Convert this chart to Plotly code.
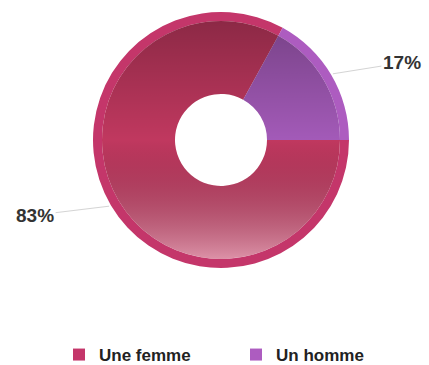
import base64
import math
import plotly.graph_objects as go

# ---- data ----
labels = ["Une femme", "Un homme"]
values = [83, 17]
pct_text = ["83%", "17%"]

# ---- styles ----
W, H = 429, 365
CX, CY = 221, 140          # pie centre (px)
R_OUT, R_IN, R_HOLE = 128, 119, 46
ring_colors = ["#c4366a", "#ad5cc0"]
inner_colors = ["#c0385f", "#a35ab8"]
ROTATION = 90              # first slice begins at 3 o'clock (clockwise degrees)
FONT = "Liberation Sans, Arial, sans-serif"

total = sum(values)


def dom(r):
    return dict(x=[(CX - r) / W, (CX + r) / W], y=[1 - (CY + r) / H, 1 - (CY - r) / H])


fig = go.Figure()
# outer ring (legend source)
fig.add_trace(go.Pie(labels=labels, values=values, sort=False, direction="counterclockwise",
                     rotation=ROTATION, hole=R_IN / R_OUT, domain=dom(R_OUT),
                     marker=dict(colors=ring_colors, line=dict(width=0)),
                     textinfo="none", hoverinfo="label+percent", showlegend=True))
# inner donut
fig.add_trace(go.Pie(labels=labels, values=values, sort=False, direction="counterclockwise",
                     rotation=ROTATION, hole=R_HOLE / R_IN, domain=dom(R_IN),
                     marker=dict(colors=inner_colors, line=dict(width=0)),
                     textinfo="none", hoverinfo="label+percent", showlegend=False))

# vertical shading overlay for the inner donut
d = 2 * R_IN
svg = (f"<svg xmlns='http://www.w3.org/2000/svg' width='{d}' height='{d}' viewBox='0 0 {d} {d}'>"
       "<defs><linearGradient id='g' x1='0' y1='0' x2='0' y2='1'>"
       "<stop offset='0' stop-color='#000' stop-opacity='0.27'/>"
       "<stop offset='0.5' stop-color='#000' stop-opacity='0'/>"
       "<stop offset='1' stop-color='#fff' stop-opacity='0.45'/>"
       "</linearGradient></defs>"
       f"<path fill='url(#g)' fill-rule='evenodd' d='"
       f"M0,{R_IN} A{R_IN},{R_IN} 0 1,0 {d},{R_IN} A{R_IN},{R_IN} 0 1,0 0,{R_IN} Z "
       f"M{R_IN - R_HOLE},{R_IN} A{R_HOLE},{R_HOLE} 0 1,0 {R_IN + R_HOLE},{R_IN} "
       f"A{R_HOLE},{R_HOLE} 0 1,0 {R_IN - R_HOLE},{R_IN} Z'/></svg>")
src = "data:image/svg+xml;base64," + base64.b64encode(svg.encode()).decode()
fig.add_layout_image(dict(source=src, xref="paper", yref="paper",
                          x=(CX - R_IN) / W, y=1 - (CY - R_IN) / H,
                          sizex=d / W, sizey=d / H, sizing="stretch",
                          xanchor="left", yanchor="top", layer="above"))

# outside labels with leader lines at slice mid-angles (plotly ccw layout:
# first slice occupies [rot, rot+span] clockwise, later slices precede it)
spans = [360 * v / total for v in values]
mids = [ROTATION + spans[0] / 2, ROTATION - spans[1] / 2]
for i in range(len(values)):
    a = math.radians(mids[i])
    hx = CX + (R_OUT + 2) * math.sin(a)
    hy = CY - (R_OUT + 2) * math.cos(a)
    side = 1 if math.sin(a) > 0 else -1
    fig.add_annotation(x=hx / W, y=1 - hy / H, xref="paper", yref="paper",
                       text=f"<b>{pct_text[i]}</b>", showarrow=True, arrowhead=0,
                       arrowwidth=1, arrowcolor="#d4d4d4",
                       ax=69 if side > 0 else -74,
                       ay=-11 if side > 0 else 9,
                       font=dict(family=FONT, size=19, color="#333333"))

fig.update_layout(
    width=W, height=H, margin=dict(l=0, r=0, t=0, b=0, autoexpand=False),
    paper_bgcolor="white", plot_bgcolor="white",
    legend=dict(orientation="h", x=236 / W, xanchor="center", y=10 / H, yanchor="middle",
                entrywidth=132, entrywidthmode="pixels",
                font=dict(family=FONT, size=17, color="#222222", weight="bold"),
                itemsizing="constant"),
)
fig.write_html("out.html")
